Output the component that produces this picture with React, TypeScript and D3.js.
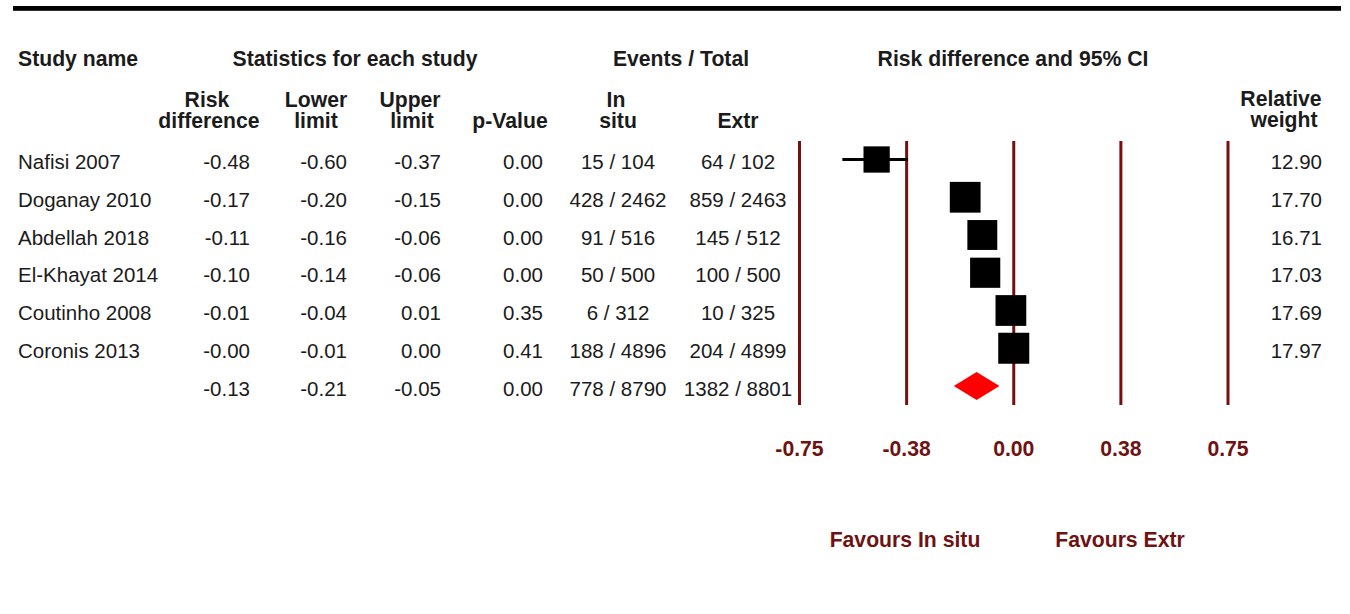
import React from "react";
import * as d3 from "d3";

const studies = ["Nafisi 2007", "Doganay 2010", "Abdellah 2018", "El-Khayat 2014", "Coutinho 2008", "Coronis 2013"];
const riskDiff = [-0.48, -0.17, -0.11, -0.10, -0.01, -0.00];
const lowerLimit = [-0.60, -0.20, -0.16, -0.14, -0.04, -0.01];
const upperLimit = [-0.37, -0.15, -0.06, -0.06, 0.01, 0.00];
const pValues = [0.00, 0.00, 0.00, 0.00, 0.35, 0.41];
const inSituEvents = [15, 428, 91, 50, 6, 188];
const inSituTotal = [104, 2462, 516, 500, 312, 4896];
const extrEvents = [64, 859, 145, 100, 10, 204];
const extrTotal = [102, 2463, 512, 500, 325, 4899];
const weights = [12.90, 17.70, 16.71, 17.03, 17.69, 17.97];

const summary = { rd: -0.13, lower: -0.21, upper: -0.05, p: 0.00, inE: 778, inT: 8790, exE: 1382, exT: 8801 };

const tickValues = [-0.75, -0.375, 0, 0.375, 0.75];

const FONT = "'Liberation Sans', Arial, Helvetica, sans-serif";
const MAROON = "#6e1212";
const LINE = "#761010";
const TXT = "#1b1b1b";

const locale = d3.formatLocale({ decimal: ".", thousands: ",", grouping: [3], currency: ["", ""], minus: "-" });
const f2 = locale.format(".2f");

export default function App() {
  const x = d3.scaleLinear().domain([-0.75, 0.75]).range([799.5, 1228]);
  const rowCenter = (i: number) => 159.5 + 37.75 * i;
  const baseline = (i: number) => rowCenter(i) + 9.7;
  const side = d3.scaleSqrt().domain([0, 17.97]).range([0, 31]);
  const fmtNum = (v: number) => (Object.is(v, -0) ? "-0.00" : f2(v));

  const numCols = [
    { right: 250, vals: riskDiff },
    { right: 347, vals: lowerLimit },
    { right: 441, vals: upperLimit },
    { right: 543, vals: pValues },
  ];
  const summaryNums = [summary.rd, summary.lower, summary.upper, summary.p];

  const nRows = studies.length;
  const fs = 20.5;
  const fsb = 21.2;

  const sumY = rowCenter(nRows);
  const diamond = [
    [x(summary.lower), sumY],
    [x(summary.rd), sumY - 14],
    [x(summary.upper), sumY],
    [x(summary.rd), sumY + 14],
  ];

  return (
    <svg
      width={1350}
      height={614}
      style={{ position: "absolute", left: 0, top: 0, background: "#fff" }}
      fontFamily={FONT}
    >
      <rect x={0} y={0} width={1350} height={614} fill="#fff" />
      <rect x={13} y={6} width={1328} height={4.8} fill="#000" />

      {/* Top header row */}
      <g fontWeight="bold" fontSize={fsb} fill={TXT}>
        <text x={18} y={66}>Study name</text>
        <text x={355} y={66} textAnchor="middle">Statistics for each study</text>
        <text x={681} y={66} textAnchor="middle">Events / Total</text>
        <text x={1013} y={66} textAnchor="middle">Risk difference and 95% CI</text>
      </g>

      {/* Second header row */}
      <g fontWeight="bold" fontSize={fsb} fill={TXT} textAnchor="middle">
        <text x={207} y={107}>Risk</text>
        <text x={209} y={128}>difference</text>
        <text x={316} y={107}>Lower</text>
        <text x={316} y={128}>limit</text>
        <text x={410} y={107}>Upper</text>
        <text x={412} y={128}>limit</text>
        <text x={510} y={128}>p-Value</text>
        <text x={616} y={107}>In</text>
        <text x={618} y={128}>situ</text>
        <text x={738} y={128}>Extr</text>
        <text x={1281} y={106}>Relative</text>
        <text x={1284} y={127}>weight</text>
      </g>

      {/* Study rows */}
      <g fontSize={fs} fill={TXT}>
        {studies.map((s, i) => (
          <g key={s}>
            <text x={18} y={baseline(i)}>{s}</text>
            {numCols.map((c, j) => (
              <text key={j} x={c.right} y={baseline(i)} textAnchor="end">{fmtNum(c.vals[i])}</text>
            ))}
            <text x={618} y={baseline(i)} textAnchor="middle">{`${inSituEvents[i]} / ${inSituTotal[i]}`}</text>
            <text x={738} y={baseline(i)} textAnchor="middle">{`${extrEvents[i]} / ${extrTotal[i]}`}</text>
            <text x={1322} y={baseline(i)} textAnchor="end">{f2(weights[i])}</text>
          </g>
        ))}
        {summaryNums.map((v, j) => (
          <text key={"s" + j} x={numCols[j].right} y={baseline(nRows)} textAnchor="end">{fmtNum(v)}</text>
        ))}
        <text x={618} y={baseline(nRows)} textAnchor="middle">{`${summary.inE} / ${summary.inT}`}</text>
        <text x={738} y={baseline(nRows)} textAnchor="middle">{`${summary.exE} / ${summary.exT}`}</text>
      </g>

      {/* Vertical reference lines */}
      <g stroke={LINE} strokeWidth={3}>
        {tickValues.map((t) => (
          <line key={t} x1={x(t)} x2={x(t)} y1={141} y2={405} />
        ))}
      </g>

      {/* CI lines and boxes */}
      <g>
        {studies.map((s, i) => {
          const sz = side(weights[i]);
          return (
            <g key={s}>
              <line x1={x(lowerLimit[i])} x2={x(upperLimit[i])} y1={rowCenter(i)} y2={rowCenter(i)} stroke="#000" strokeWidth={3.2} />
              <rect x={x(riskDiff[i]) - sz / 2} y={rowCenter(i) - sz / 2} width={sz} height={sz} fill="#000" />
            </g>
          );
        })}
        <polygon points={diamond.map((p) => p.join(",")).join(" ")} fill="#ff0000" />
      </g>

      {/* Tick labels */}
      <g fontWeight="bold" fontSize={fsb} fill={MAROON} textAnchor="middle">
        {tickValues.map((t) => (
          <text key={t} x={x(t)} y={456}>{f2(t)}</text>
        ))}
        <text x={905} y={547}>Favours In situ</text>
        <text x={1120} y={547}>Favours Extr</text>
      </g>
    </svg>
  );
}
